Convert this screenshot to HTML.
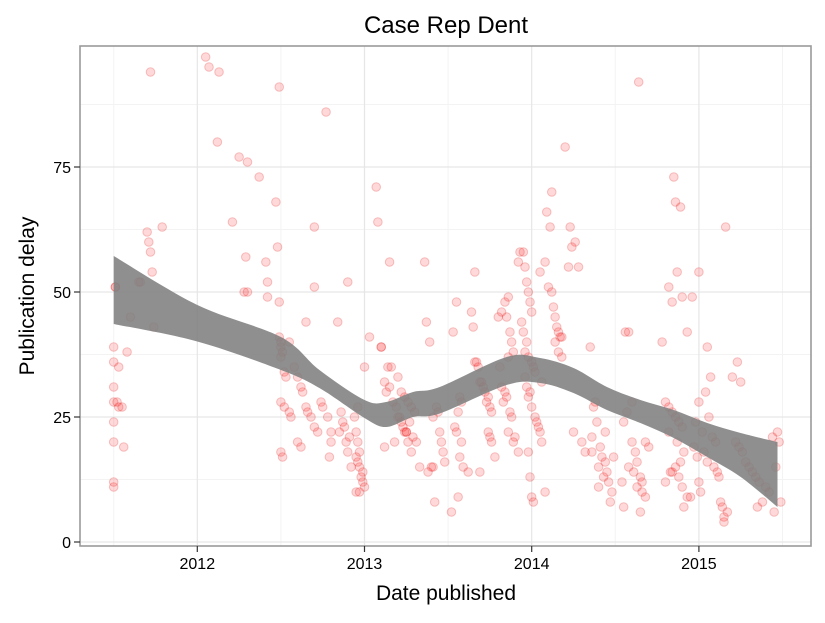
<!DOCTYPE html>
<html><head><meta charset="utf-8"><style>
body{margin:0;background:#fff;font-family:"Liberation Sans",sans-serif}
svg text{font-family:"Liberation Sans",sans-serif}
</style></head><body>
<svg id="chart" width="825" height="618" xmlns="http://www.w3.org/2000/svg">
<text x="446" y="33" text-anchor="middle" font-size="24">Case Rep Dent</text>
<g id="grid"></g>
<g id="pts"></g>
<path id="band" fill="#7f7f7f" fill-opacity="0.88"/>
<rect x="80" y="46" width="731" height="500" fill="none" stroke="#9a9a9a" stroke-width="1.6"/>
<g id="axes"></g>
<text x="446" y="600" text-anchor="middle" font-size="21">Date published</text>
<text transform="translate(34,296) rotate(-90)" text-anchor="middle" font-size="21">Publication delay</text>
</svg>
<script>
const xTicks=[2012,2013,2014,2015];
const yTicks=[0,25,50,75];
const bandYears=[2011.5,2012.0,2012.5,2012.73,2013.0,2013.13,2013.29,2013.45,2013.85,2014.05,2014.25,2014.45,2014.65,2014.85,2015.05,2015.25,2015.47];
const bandUpper=[57.2,47.4,41,34.4,28.4,28,30,31,37,36.8,34.8,31,28.4,26.4,23.8,21.8,20];
const bandLower=[43.6,40.1,34.4,30.8,24.8,23,25,25.7,31.4,31.8,29.8,26.4,23.8,20.8,17,13,7];
const years=[2011.5,2011.5,2011.5,2011.5,2011.5,2011.5,2011.5,2011.5,2011.51,2011.51,2011.52,2011.53,2011.53,2011.55,2011.56,2011.58,2011.6,
2011.66,2011.7,2011.71,2011.72,2011.73,2011.74,2011.72,2011.79,2011.65,
2012.05,2012.07,2012.13,2012.12,2012.21,2012.25,2012.30,2012.37,2012.29,2012.28,2012.30,2012.41,2012.42,2012.42,2012.47,2012.48,2012.49,2012.49,
2012.49,2012.5,2012.5,2012.51,2012.5,2012.52,2012.53,2012.5,2012.52,2012.55,2012.56,2012.5,2012.51,2012.55,
2012.58,2012.6,2012.62,2012.63,2012.65,2012.66,2012.68,2012.7,2012.72,2012.6,2012.62,2012.65,2012.70,2012.70,2012.77,2012.74,2012.75,2012.78,2012.8,2012.8,2012.79,2012.84,2012.86,2012.87,2012.88,2012.85,2012.89,2012.90,2012.9,2012.91,2012.92,
2012.95,2012.96,2012.94,2012.95,2012.96,2012.97,2012.95,2012.96,2012.97,2012.98,2012.99,2013.0,2012.97,2012.99,2013.0,
2013.03,2013.07,2013.15,2013.08,2013.1,2013.1,2013.12,2013.13,2013.15,2013.17,2013.19,2013.2,2013.21,2013.22,2013.23,2013.24,2013.25,2013.26,2013.18,2013.12,2013.14,2013.16,2013.2,2013.22,2013.24,2013.26,2013.28,2013.3,2013.27,2013.25,2013.29,2013.31,2013.28,
2013.33,2013.36,2013.37,2013.39,2013.41,2013.4,2013.38,2013.42,2013.43,2013.44,2013.41,2013.45,2013.46,2013.47,2013.48,2013.52,2013.56,2013.55,2013.53,2013.57,2013.58,2013.56,2013.54,2013.55,2013.58,2013.57,2013.59,
2013.62,2013.64,2013.65,2013.66,2013.67,2013.68,2013.7,2013.69,2013.71,2013.72,2013.74,2013.73,2013.75,2013.76,2013.74,2013.75,2013.76,2013.78,2013.69,2013.66,2013.8,2013.82,2013.84,2013.86,2013.85,2013.87,2013.88,2013.89,2013.86,2013.81,2013.82,2013.84,2013.85,2013.83,2013.87,2013.88,2013.86,2013.9,2013.89,
2013.92,2013.93,2013.95,2013.96,2013.97,2013.98,2013.99,2014.0,2013.94,2013.95,2013.97,2013.96,2013.98,2014.0,2014.01,2014.02,2013.96,2013.97,2013.99,2013.98,2014.0,2014.02,2014.03,2014.04,2014.05,2014.06,2013.98,2013.99,2014.0,2014.01,2014.08,2013.92,2014.05,
2014.06,2014.12,2014.09,2014.11,2014.08,2014.1,2014.12,2014.13,2014.14,2014.15,2014.16,2014.17,2014.18,2014.14,2014.16,2014.18,2014.2,2014.23,2014.26,2014.22,2014.28,2014.24,2014.25,2014.3,
2014.32,2014.36,2014.35,2014.38,2014.37,2014.39,2014.41,2014.36,2014.42,2014.44,2014.4,2014.45,2014.43,2014.46,2014.4,2014.48,2014.47,2014.44,2014.49,
2014.54,2014.58,2014.64,2014.56,2014.6,2014.57,2014.55,2014.6,2014.62,2014.63,2014.58,2014.61,2014.65,2014.66,2014.63,2014.66,2014.68,2014.55,2014.65,2014.7,2014.68,
2014.83,2014.82,2014.84,2014.85,2014.86,2014.89,2014.87,2014.9,2014.93,2014.78,2014.8,2014.82,2014.84,2014.86,2014.88,2014.9,2014.82,2014.87,2014.91,2014.89,2014.86,2014.84,2014.88,2014.8,2014.9,2014.93,2014.91,
2015.0,2015.0,2014.96,2015.05,2015.07,2015.04,2015.06,2014.98,2015.02,2015.08,2015.1,2014.97,2015.03,2014.99,2015.05,2015.09,2015.11,2015.12,2015.0,2015.01,2014.95,2015.13,2015.14,2015.15,2015.15,2015.17,
2015.16,2015.25,2015.23,2015.2,2015.22,2015.24,2015.26,2015.28,2015.3,2015.32,2015.34,2015.36,2015.4,2015.42,2015.38,2015.35,2015.45,2015.48,2015.47,2015.44,2015.46,2015.49];
const delays=[36,39,31,28,24,20,12,11,51,51,28,27,35,27,19,38,45,
52,62,60,58,54,43,94,63,52,
97,95,94,80,64,77,76,73,57,50,50,56,52,49,68,59,91,48,
41,40,39,38,37,34,33,28,27,26,25,18,17,40,
35,33,31,30,27,26,25,23,22,20,19,44,63,51,86,28,27,25,22,20,17,44,26,24,23,22,20,18,52,21,15,10,
27,25,22,20,18,17,16,15,13,12,11,10,14,35,41,
71,56,64,39,39,32,30,31,28,27,25,25,24,23,22,22,20,20,19,35,35,33,30,29,28,27,26,24,22,21,20,18,15,
56,44,40,15,15,14,8,27,26,25,22,20,18,16,6,9,48,42,29,28,26,23,22,20,17,15,14,
46,43,36,36,35,32,32,31,30,29,28,27,26,22,21,20,17,14,54,45,46,48,49,45,42,40,38,37,35,31,30,29,28,26,25,22,21,20,18,
58,58,55,52,50,48,46,44,42,40,38,37,36,35,34,33,31,30,29,27,25,24,23,22,20,18,13,9,8,10,56,54,32,
70,66,63,56,51,50,47,45,43,42,41,41,40,38,37,79,63,60,55,55,59,22,20,18,
21,39,28,27,24,19,18,17,16,15,14,13,12,11,10,8,22,17,12,
42,92,42,28,26,24,20,18,16,15,14,13,12,11,10,9,7,6,19,20,14,
51,48,73,68,67,54,49,42,40,28,27,26,25,24,23,22,20,18,16,15,14,13,12,11,9,7,28,
54,49,39,33,30,25,24,22,21,20,19,18,17,16,15,14,13,12,10,9,8,7,5,4,6,63,
32,36,33,20,19,18,16,15,14,13,12,11,10,8,7,6,20,22,21,15,8,10];

const NS="http://www.w3.org/2000/svg";
function sx(yr){return 197.3+(yr-2012)*167.2;}
function sy(v){return 542-v*5;}
function mk(tag,attrs,parent){const e=document.createElementNS(NS,tag);for(const k in attrs)e.setAttribute(k,attrs[k]);parent.appendChild(e);return e;}
const grid=document.getElementById('grid');
[12.5,37.5,62.5,87.5].forEach(v=>{const l=mk('line',{x1:80,x2:811,y1:sy(v),y2:sy(v),stroke:'#f3f3f3','stroke-width':1},grid);

});
[2011.5,2012.5,2013.5,2014.5,2015.5].forEach(v=>{const l=mk('line',{x1:sx(v),x2:sx(v),y1:46,y2:546,stroke:'#f3f3f3','stroke-width':1},grid);

});
yTicks.forEach(v=>{const l=mk('line',{x1:80,x2:811,y1:sy(v),y2:sy(v),stroke:'#e6e6e6','stroke-width':1.2},grid);

});
xTicks.forEach(v=>{const l=mk('line',{x1:sx(v),x2:sx(v),y1:46,y2:546,stroke:'#e6e6e6','stroke-width':1.2},grid);

});
const pts=document.getElementById('pts');
for(let i=0;i<years.length;i++){const c=mk('circle',{cx:sx(years[i]),cy:sy(delays[i]),r:4.3,fill:'rgba(255,0,0,0.15)',stroke:'rgba(220,0,0,0.22)','stroke-width':1},pts);

}
// Catmull-Rom smooth path through points
function smooth(P,start){
  let d=(start?'M':'L')+P[0][0].toFixed(1)+','+P[0][1].toFixed(1);
  for(let i=0;i<P.length-1;i++){
    const p0=P[Math.max(i-1,0)],p1=P[i],p2=P[i+1],p3=P[Math.min(i+2,P.length-1)];
    const c1=[p1[0]+(p2[0]-p0[0])/6,p1[1]+(p2[1]-p0[1])/6];
    const c2=[p2[0]-(p3[0]-p1[0])/6,p2[1]-(p3[1]-p1[1])/6];
    d+='C'+c1[0].toFixed(1)+','+c1[1].toFixed(1)+' '+c2[0].toFixed(1)+','+c2[1].toFixed(1)+' '+p2[0].toFixed(1)+','+p2[1].toFixed(1);
  }
  return d;
}
const up=bandYears.map((y,i)=>[sx(y),sy(bandUpper[i])]);
const lo=bandYears.map((y,i)=>[sx(y),sy(bandLower[i])]).reverse();
document.getElementById('band').setAttribute('d',smooth(up,true)+smooth(lo,false)+'Z');
const axes=document.getElementById('axes');
yTicks.forEach(v=>{const t=mk('line',{x1:74,x2:80,y1:sy(v),y2:sy(v),stroke:'#333','stroke-width':1.2},axes);


const tx=mk('text',{x:71,y:sy(v)+6,'text-anchor':'end','font-size':16},axes);tx.textContent=v;

});
xTicks.forEach(v=>{const t=mk('line',{x1:sx(v),x2:sx(v),y1:546,y2:552,stroke:'#333','stroke-width':1.2},axes);


const tx=mk('text',{x:sx(v),y:569,'text-anchor':'middle','font-size':16},axes);tx.textContent=v;

});
</script>
</body></html>
